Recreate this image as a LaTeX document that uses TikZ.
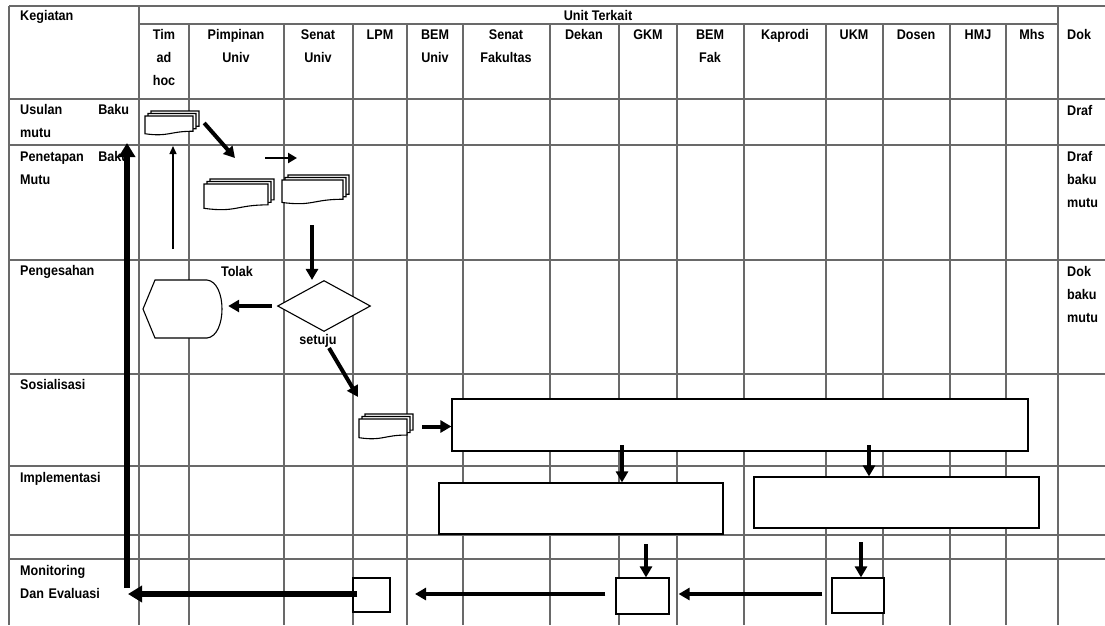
\documentclass[tikz,border=0pt]{standalone}
\usepackage{fontspec}
\setmainfont{Liberation Sans}[FakeStretch=0.9]
\usetikzlibrary{arrows.meta,shapes.geometric,fit,calc}
\definecolor{gridc}{RGB}{105,105,105}
\newcommand\docshape[4]{% x0 y0 x1 y1 (pixel coords)
  \filldraw[docline] ({#1},{#2}) -- ({#3},{#2}) -- ({#3},{(#2)+0.802*((#4)-(#2))})
    .. controls ({((#1)+(#3))/2},{(#2)+0.802*((#4)-(#2))}) and ({((#1)+(#3))/2},{(#2)+1.108*((#4)-(#2))}) ..
    ({#1},{(#2)+0.934*((#4)-(#2))}) -- cycle;}
\newcommand\multidoc[5]{% name x0 y0 x1 y1
  \docshape{(#2)+6}{#3}{#4}{(#5)-5}
  \docshape{(#2)+3}{(#3)+2.5}{(#4)-3}{(#5)-2.5}
  \docshape{#2}{(#3)+5}{(#4)-6}{#5}
  \node[fit={(#2,#3) (#4,#5)}, inner sep=0pt] (#1) {};}
\begin{document}
\begin{tikzpicture}[x=1pt,y=-1pt,
  grid/.style={draw=gridc, line width=1.2pt},
  docline/.style={draw=black, fill=white, line width=1.1pt},
  box/.style={draw=black, fill=white, line width=1.2pt, inner sep=0pt},
  lbl/.style={font=\bfseries\fontsize{14}{23}\selectfont, inner sep=0pt, text=black},
  colh/.style={lbl, anchor=base, align=center},
  rowl/.style={lbl, anchor=base west, align=left, text width=109pt},
  dokl/.style={lbl, anchor=base west, align=left, text width=36pt},
  flow/.style={line width=4pt, -{Triangle[length=11pt,width=12pt]}},
  bigflow/.style={line width=5.5pt, -{Triangle[length=14pt,width=16pt]}},
  midflow/.style={line width=2.5pt, -{Triangle[length=9pt,width=10pt]}},
  thinflow/.style={line width=1.4pt, -{Triangle[length=8pt,width=7pt]}}]
\fill[white] (0,0) rectangle (1105,625);
\useasboundingbox (0,0) rectangle (1105,625);
% ---------------- grid ----------------
\draw[grid] (9,6) -- (1105,6);
\draw[grid] (139,24) -- (1058,24);
\foreach \y in {99,145,260,374,466,535,559} \draw[grid] (9,\y) -- (1105,\y);
\draw[grid] (9,6) -- (9,625);
\draw[grid] (139,6) -- (139,625);
\draw[grid] (1058,6) -- (1058,625);
\foreach \x in {189,284,353,407,463,550,619,677,744,826,883,950,1006} \draw[grid] (\x,24) -- (\x,625);
% ---------------- header text ----------------
\node[lbl, anchor=base west] (hKeg) at (20,20) {Kegiatan};
\node[lbl, anchor=base] (hUnit) at (598,20) {Unit Terkait};
\node[colh, text width=46pt] (hTim) at (164,39) {Tim\\ad\\hoc};
\node[colh, text width=90pt] (hPim) at (236,39) {Pimpinan\\Univ};
\node[colh, text width=64pt] (hSen) at (318,39) {Senat\\Univ};
\node[colh, text width=50pt] (hLPM) at (380,39) {LPM};
\node[colh, text width=52pt] (hBEMU) at (435,39) {BEM\\Univ};
\node[colh, text width=82pt] (hSenF) at (506,39) {Senat\\Fakultas};
\node[colh, text width=64pt] (hDek) at (584,39) {Dekan};
\node[colh, text width=54pt] (hGKM) at (648,39) {GKM};
\node[colh, text width=62pt] (hBEMF) at (710,39) {BEM\\Fak};
\node[colh, text width=78pt] (hKap) at (785,39) {Kaprodi};
\node[colh, text width=52pt] (hUKM) at (854,39) {UKM};
\node[colh, text width=62pt] (hDos) at (916,39) {Dosen};
\node[colh, text width=52pt] (hHMJ) at (978,39) {HMJ};
\node[colh, text width=48pt] (hMhs) at (1032,39) {Mhs};
\node[lbl, anchor=base west] (hDok) at (1067,39) {Dok};
% ---------------- row labels ----------------
\node[rowl] (r1) at (20,114) {Usulan\hspace{0pt plus 1filll}Baku\\mutu};
\node[rowl] (r2) at (20,161) {Penetapan\hspace{0pt plus 1filll}Baku\\Mutu};
\node[rowl] (r3) at (20,275) {Pengesahan};
\node[rowl] (r4) at (20,389) {Sosialisasi};
\node[rowl] (r5) at (20,482) {Implementasi};
\node[rowl] (r6) at (20,575) {Monitoring\\Dan Evaluasi};
\node[dokl] (d1) at (1067,115) {Draf};
\node[dokl] (d2) at (1067,161) {Draf\\baku\\mutu};
\node[dokl] (d3) at (1067,276) {Dok\\baku\\mutu};
% ---------------- shapes ----------------
\multidoc{md1}{145}{111}{199}{135}
\multidoc{md2}{204}{179}{274}{210}
\multidoc{md3}{282}{175}{349}{204}
\multidoc{md4}{359}{414}{413}{439}
\node[fit={(143,280) (222,338)}, inner sep=0pt] (disp) {};
\filldraw[docline] (143,309) -- (155,280) -- (207,280) .. controls (227,282) and (227,336) .. (207,338) -- (155,338) -- cycle;
\node[diamond, draw=black, fill=white, line width=1.1pt, minimum width=93pt, minimum height=51pt, inner sep=0pt] (dia) at (324,306) {};
\node[lbl, anchor=base] (tolak) at (237,276) {Tolak};
\node[lbl, anchor=base] (setuju) at (318,344) {setuju};
\node[box, fit={(452,399) (1028,451)}] (sos) {};
\node[box, fit={(439,483) (723,534)}] (implL) {};
\node[box, fit={(754,477) (1039,528)}] (implR) {};
\node[box, fit={(353,578) (390,612)}] (monL) {};
\node[box, fit={(616,578) (669,614)}] (monG) {};
\node[box, fit={(832,578) (884,613)}] (monU) {};
% ---------------- connectors ----------------
\coordinate (c1) at (235,158);
\coordinate (c2a) at (265,158);
\coordinate (c2b) at (297,158);
\coordinate (c3) at (312,225);
\coordinate (c5a) at (329,348);
\coordinate (c5b) at (358,397);
\coordinate (c7) at (622,445);
\coordinate (c8) at (869,445);
\coordinate (c9) at (646,544);
\coordinate (c10) at (861,542);
\coordinate (c12) at (415,594);
\coordinate (c13) at (128,594);
\coordinate (c14a) at (127,588);
\coordinate (c14b) at (127,143);
\coordinate (c15a) at (173,249);
\coordinate (c15b) at (173,146);
\draw[flow] ([xshift=5pt]md1.east) -- (c1);
\draw[midflow] (c2a) -- (c2b);
\draw[flow] (c3) -- (c3 |- dia.north);
\draw[flow] ([xshift=-5pt]dia.west) -- ([xshift=6pt]disp.east |- dia.west);
\draw[flow] (c5a) -- (c5b);
\draw[flow] ([xshift=9pt]md4.east) -- (sos.west |- md4.east);
\draw[flow] (c7) -- (c7 |- implL.north);
\draw[flow] (c8) -- (c8 |- implR.north);
\draw[flow] (c9) -- (c9 |- monG.north);
\draw[flow] (c10) -- (c10 |- monU.north);
\draw[flow] ([xshift=-9pt]monU.west |- c12) -- ([xshift=9pt]monG.east |- c12);
\draw[flow] ([xshift=-10pt]monG.west |- c12) -- (c12);
\draw[bigflow] ([xshift=5pt]monL.west |- c13) -- (c13);
\draw[bigflow] (c14a) -- (c14b);
\draw[thinflow] (c15a) -- (c15b);
\end{tikzpicture}
\end{document}
